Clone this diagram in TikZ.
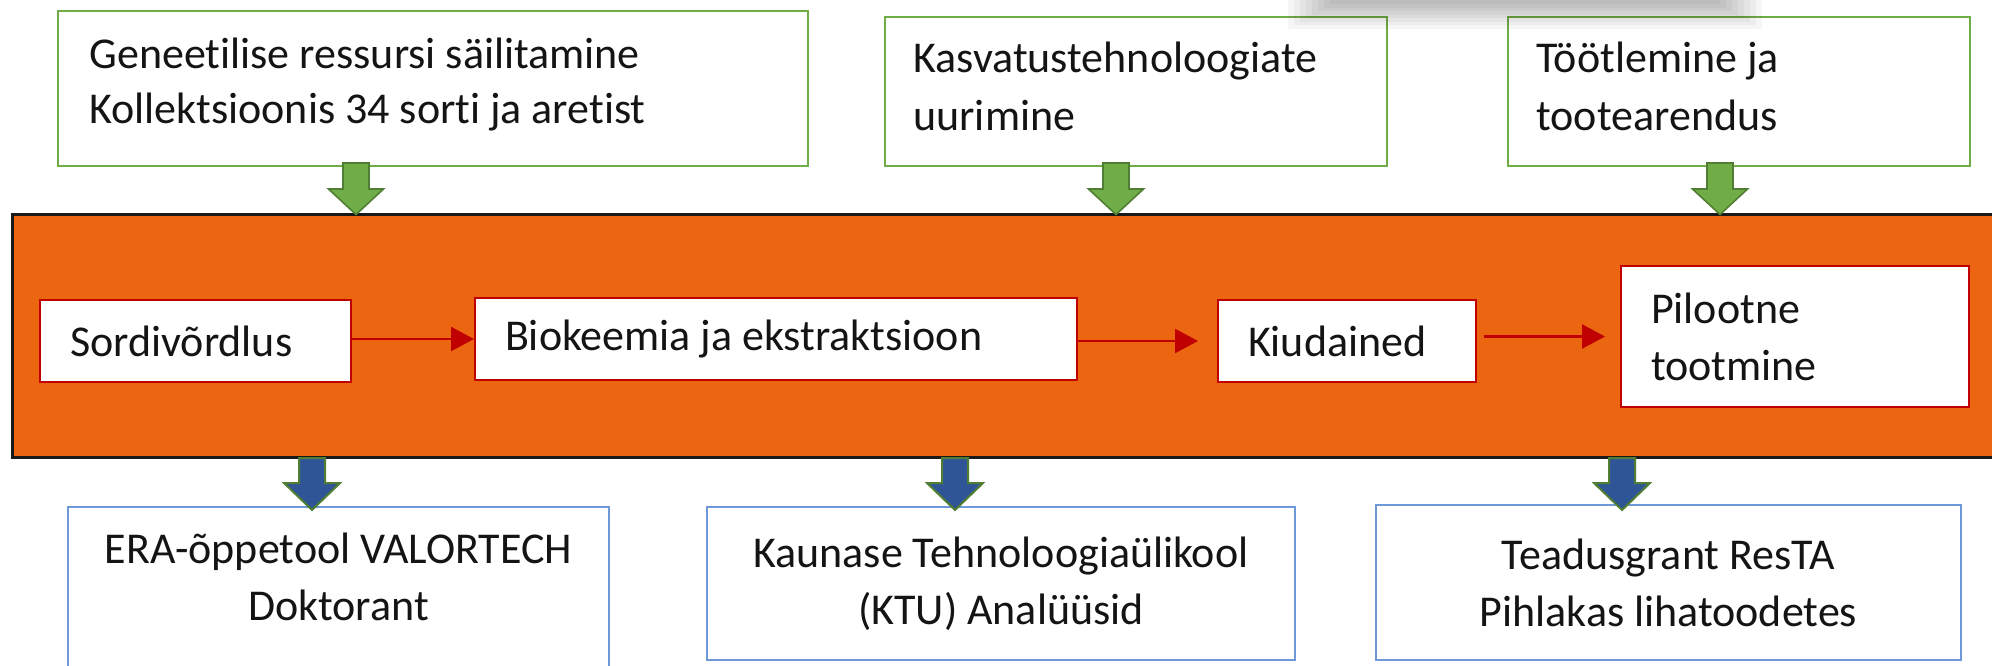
\documentclass[tikz,border=0pt]{standalone}
\usepackage{fontspec}
\setmainfont{Carlito}[Ligatures=NoCommon]
\usetikzlibrary{arrows.meta}
\definecolor{boxgreen}{HTML}{70AD47}
\definecolor{arrgreen}{HTML}{70AD47}
\definecolor{arrgreenD}{HTML}{507E32}
\definecolor{barorange}{HTML}{EC6612}
\definecolor{boxred}{HTML}{C00000}
\definecolor{boxblue}{HTML}{6F98D8}
\definecolor{arrblue}{HTML}{2F5597}
\definecolor{txt}{HTML}{141414}
\begin{document}
\begin{tikzpicture}[x=0.5pt,y=-0.5pt,
  every node/.style={font=\fontsize{22}{27.5}\selectfont, text=txt},
  greenbox/.style={draw=boxgreen, line width=1pt, fill=white, inner sep=0pt},
  ttext/.style={inner sep=0pt, align=flush left, anchor=west},
  redbox/.style={draw=boxred, line width=1pt, fill=white, inner xsep=15pt, inner ysep=0pt, align=flush left, font=\fontsize{22}{28.5}\selectfont},
  bluebox/.style={draw=boxblue, line width=1pt, inner sep=0pt},
  btext/.style={align=flush center, font=\fontsize{22}{28.5}\selectfont},
  barbox/.style={draw=black!90, line width=1.5pt, fill=barorange, inner sep=0pt},
  redarrow/.style={draw=boxred, line width=1.2pt, -{Triangle[length=11.5pt,width=12pt]}},
  garrow/.style={fill=arrgreen, draw=arrgreenD, line width=0.8pt, line join=miter},
  barrow/.style={fill=arrblue, draw=arrgreenD, line width=1pt, line join=miter}
]
\useasboundingbox (0,0) rectangle (1992,665);
\fill[white] (0,0) rectangle (1992,665);

% orange band
\node[barbox, minimum width=999pt, minimum height=121.5pt] (bar) at (1011,335.5) {};

% top green boxes
\node[greenbox, minimum width=375pt, minimum height=77.5pt] (g1) at (433,88.5) {};
\node[ttext, text width=345pt] (g1t) at ([xshift=16pt,yshift=2pt]g1.west)
  {Geneetilise ressursi säilitamine\\Kollektsioonis 34 sorti ja aretist};
\node[greenbox, minimum width=251pt, minimum height=74.5pt] (g2) at (1136,91.5) {};
\node[ttext, text width=221pt, font=\fontsize{22}{29}\selectfont] (g2t) at ([xshift=14.5pt,yshift=2.5pt]g2.west)
  {Kasvatustehnoloogiate\\uurimine};
\node[greenbox, minimum width=231pt, minimum height=74.5pt] (g3) at (1739,91.5) {};
\node[ttext, text width=201pt, font=\fontsize{22}{29}\selectfont] (g3t) at ([xshift=14.5pt,yshift=2.5pt]g3.west)
  {Töötlemine ja\\tootearendus};

% green block arrows
\foreach \x in {356,1116,1720}{
  \draw[garrow] (\x-13,163) -- (\x+13,163) -- (\x+13,189) -- (\x+27.5,189) -- (\x,214.5)
    -- (\x-27.5,189) -- (\x-13,189) -- cycle;
}

% inner process boxes
\node[redbox, minimum width=155.5pt, minimum height=41pt, text width=125.5pt] (sord) at (195.5,341) {Sordivõrdlus};
\node[redbox, minimum width=301pt, minimum height=41pt, text width=271pt] (bio) at (776,339) {Biokeemia ja ekstraktsioon};
\node[redbox, minimum width=129pt, minimum height=41pt, text width=99pt] (kiud) at (1347,341) {Kiudained};
\node[redbox, minimum width=174pt, minimum height=70.5pt, text width=144pt] (pil) at (1795,336.5) {Pilootne\\tootmine};

\draw[redarrow] (sord.east |- bio.west) -- (bio.west);
\draw[redarrow, shorten >=9.5pt] (bio.east |- kiud.west) -- (kiud.west);
\draw[redarrow, shorten <=3.5pt, shorten >=7.5pt] (kiud.east |- pil.west) -- (pil.west);

% bottom blue boxes
\node[bluebox, minimum width=270.5pt, minimum height=96.5pt] (era) at (338.5,603.5) {};
\node[btext] (eratext) at (338.5,577) {ERA-õppetool VALORTECH\\Doktorant};
\node[bluebox, btext, minimum width=294pt, minimum height=76.5pt] (ktu) at (1001,583.5)
  {Kaunase Tehnoloogiaülikool\\(KTU) Analüüsid};
\node[bluebox, btext, minimum width=292.5pt, minimum height=77.5pt] (tead) at (1668.5,582.5)
  {Teadusgrant ResTA\\Pihlakas lihatoodetes};

% blue block arrows
\foreach \x in {312,955,1622}{
  \draw[barrow] (\x-13,458) -- (\x+13,458) -- (\x+13,483) -- (\x+28,483) -- (\x,510)
    -- (\x-28,483) -- (\x-13,483) -- cycle;
}

% faint grey shadow at the top
\foreach \i in {0,...,7}{
  \fill[black, opacity=0.035] (1330-\i*6,-10) rectangle (1720+\i*6,4+\i*3.5);
}
\end{tikzpicture}
\end{document}
